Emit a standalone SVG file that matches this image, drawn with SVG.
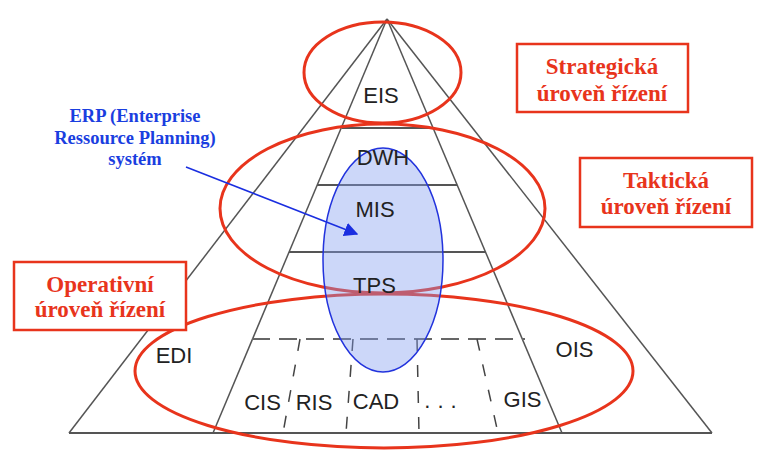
<svg xmlns="http://www.w3.org/2000/svg" width="768" height="457" viewBox="0 0 768 457">
<defs>
<style>
.ln{stroke:#555;stroke-width:1.5;fill:none}
.hl{stroke:#555;stroke-width:2;fill:none}
.dh{stroke:#666;stroke-width:2;fill:none;stroke-dasharray:18 9}
.dv{stroke:#444;stroke-width:1.5;fill:none;stroke-dasharray:12 14}
.red{stroke:#e8341c;stroke-width:3;fill:none}
.box{stroke:#e8341c;stroke-width:2.5;fill:#fff}
.lbl{font-family:"Liberation Sans",Arial,sans-serif;font-size:22px;fill:#222;text-anchor:middle}
.rt{font-family:"Liberation Serif","Times New Roman",serif;font-weight:bold;font-size:23px;fill:#e8341c;text-anchor:middle}
.bt{font-family:"Liberation Serif","Times New Roman",serif;font-weight:bold;font-size:18.5px;fill:#1a3ee0;text-anchor:middle}
</style>
<marker id="ah" viewBox="0 0 10 10" refX="9" refY="5" markerWidth="14" markerHeight="14" markerUnits="userSpaceOnUse" orient="auto">
<path d="M0,0 L10,5 L0,10 z" fill="#1a2ee0"/>
</marker>
</defs>
<rect width="768" height="457" fill="#fff"/>
<g id="pyramid">
<line class="ln" x1="387" y1="19" x2="69" y2="433"/>
<line class="ln" x1="387" y1="19" x2="712" y2="433"/>
<line class="ln" x1="387" y1="19" x2="213" y2="433"/>
<line class="ln" x1="387" y1="19" x2="562" y2="433"/>
<line class="hl" x1="69" y1="433" x2="712" y2="433"/>
<line class="hl" x1="342" y1="128" x2="435" y2="128"/>
<line class="hl" x1="317" y1="185" x2="457" y2="185"/>
<line class="hl" x1="289" y1="252" x2="486" y2="252"/>
<line class="dh" x1="252" y1="339" x2="525" y2="339"/>
<line class="dv" x1="300" y1="339" x2="283" y2="433"/>
<line class="dv" x1="353" y1="339" x2="346" y2="433"/>
<line class="dv" x1="417" y1="339" x2="419" y2="433"/>
<line class="dv" x1="477" y1="339" x2="498" y2="433"/>
</g>
<g id="levels">
<ellipse class="red" cx="382.5" cy="72.5" rx="78.5" ry="50.5"/>
<ellipse class="red" cx="382.5" cy="208.5" rx="162.5" ry="84.5"/>
<ellipse class="red" cx="384" cy="371" rx="249" ry="77"/>
</g>
<g id="erp-ellipse">
<ellipse cx="383" cy="260" rx="60" ry="112" fill="#7f9cf0" fill-opacity="0.4" stroke="#2233dd" stroke-width="1.5"/>
</g>
<g id="labels">
<text class="lbl" x="381" y="103">EIS</text>
<text class="lbl" x="383" y="165">DWH</text>
<text class="lbl" x="375" y="217">MIS</text>
<text class="lbl" x="374.5" y="293">TPS</text>
<text class="lbl" x="174" y="363">EDI</text>
<text class="lbl" x="574.5" y="357">OIS</text>
<text class="lbl" x="262.5" y="410">CIS</text>
<text class="lbl" x="314" y="410">RIS</text>
<text class="lbl" x="376" y="409">CAD</text>
<text class="lbl" x="444" y="408" style="letter-spacing:7px">...</text>
<text class="lbl" x="522.5" y="407">GIS</text>
</g>
<g id="strategic">
<rect class="box" x="517" y="44" width="171" height="68"/>
<text class="rt" x="602" y="74">Strategická</text>
<text class="rt" x="602" y="101">úroveň řízení</text>
</g>
<g id="tactical">
<rect class="box" x="580" y="158" width="172" height="69"/>
<text class="rt" x="666" y="188">Taktická</text>
<text class="rt" x="666" y="214">úroveň řízení</text>
</g>
<g id="operative">
<rect class="box" x="14" y="262" width="172" height="68"/>
<text class="rt" x="100" y="292">Operativní</text>
<text class="rt" x="100" y="317">úroveň řízení</text>
</g>
<g id="erp-label">
<text class="bt" x="135" y="122">ERP (Enterprise</text>
<text class="bt" x="135" y="144">Ressource Planning)</text>
<text class="bt" x="135" y="165">systém</text>
</g>
<g id="connectors">
<line x1="186" y1="167" x2="357" y2="234" stroke="#1a2ee0" stroke-width="1.5" marker-end="url(#ah)"/>
</g>
</svg>
